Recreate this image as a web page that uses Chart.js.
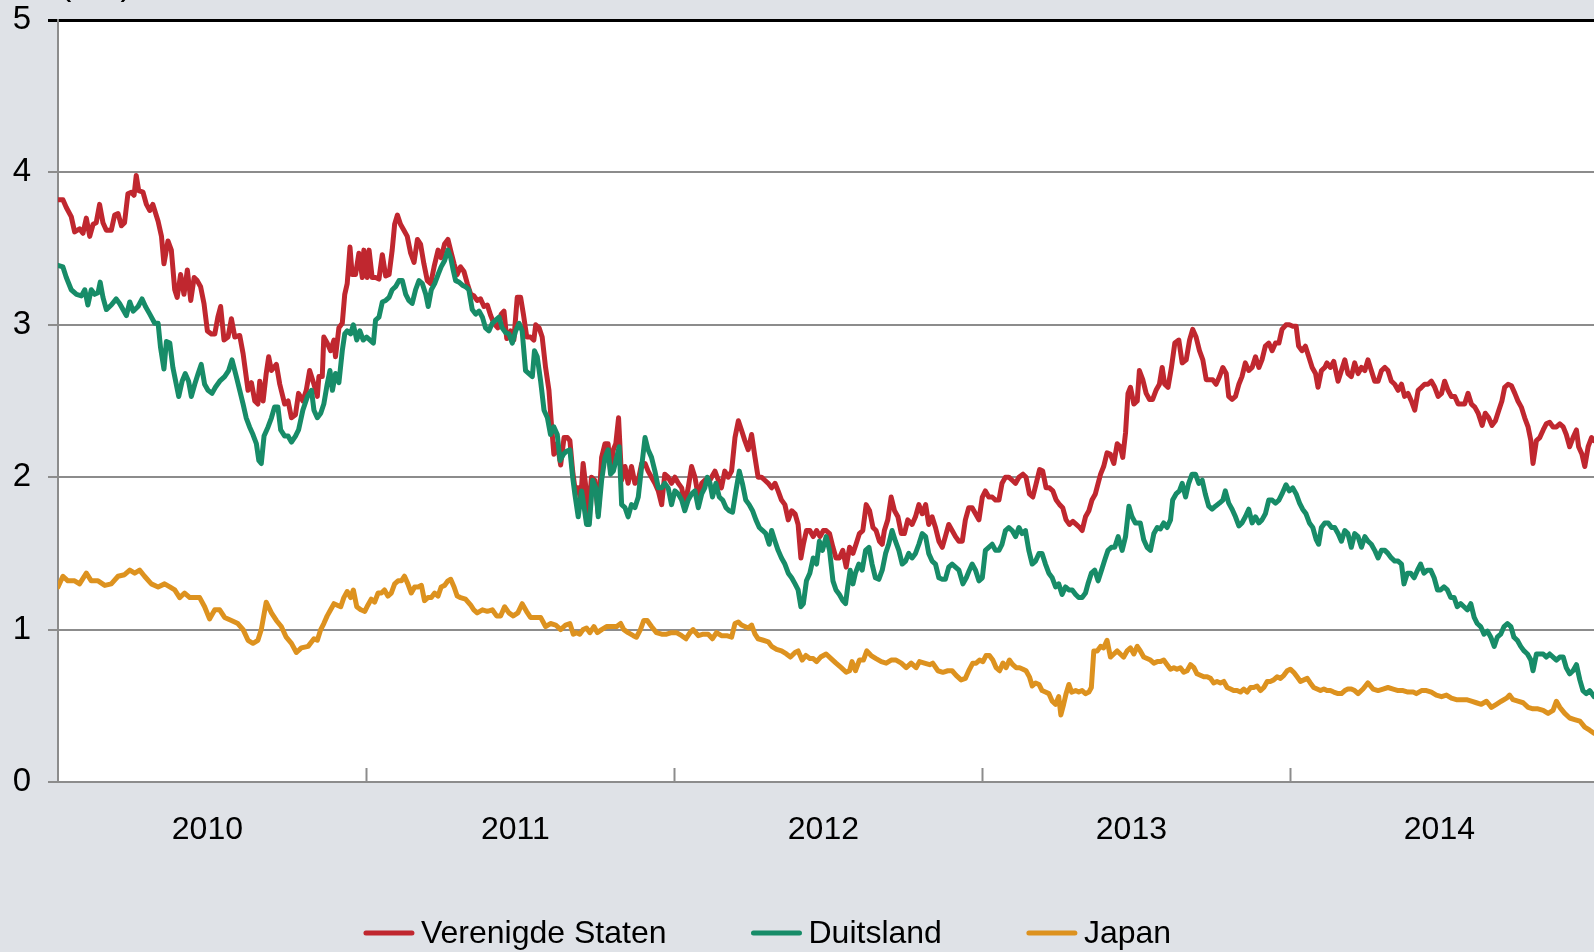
<!DOCTYPE html>
<html>
<head>
<meta charset="utf-8">
<script src="https://cdn.jsdelivr.net/npm/chart.js@4.4.0/dist/chart.umd.min.js"></script>
<style>
  html, body { margin: 0; padding: 0; background: #dfe2e7; }
  #wrap { width: 1594px; height: 952px; position: relative; }
</style>
</head>
<body>
<div id="wrap"><canvas id="myChart"></canvas></div>
<script>
// 10-year government bond yields (%): [year, value]
const usaSeries = [
  [2010.000,3.82],[2010.016,3.82],[2010.027,3.77],[2010.043,3.71],[2010.054,3.61],[2010.070,3.63],[2010.081,3.60],[2010.092,3.70],
  [2010.103,3.58],[2010.114,3.66],[2010.124,3.67],[2010.135,3.79],[2010.146,3.67],[2010.157,3.62],[2010.173,3.62],[2010.184,3.72],
  [2010.195,3.73],[2010.206,3.65],[2010.216,3.67],[2010.227,3.86],[2010.238,3.87],[2010.247,3.85],[2010.254,3.98],[2010.262,3.88],
  [2010.276,3.87],[2010.287,3.79],[2010.298,3.75],[2010.308,3.79],[2010.325,3.68],[2010.336,3.58],[2010.344,3.40],[2010.357,3.55],
  [2010.368,3.49],[2010.379,3.23],[2010.387,3.18],[2010.398,3.33],[2010.409,3.20],[2010.420,3.36],[2010.431,3.16],[2010.442,3.31],
  [2010.452,3.29],[2010.463,3.25],[2010.474,3.14],[2010.485,2.96],[2010.498,2.94],[2010.509,2.94],[2010.519,3.05],[2010.528,3.12],
  [2010.539,2.90],[2010.552,2.92],[2010.563,3.04],[2010.574,2.92],[2010.590,2.93],[2010.601,2.81],[2010.617,2.57],[2010.628,2.62],
  [2010.639,2.50],[2010.649,2.48],[2010.655,2.63],[2010.666,2.50],[2010.676,2.68],[2010.684,2.79],[2010.693,2.70],[2010.709,2.74],
  [2010.720,2.61],[2010.736,2.48],[2010.747,2.50],[2010.758,2.39],[2010.771,2.41],[2010.781,2.55],[2010.795,2.50],[2010.806,2.57],
  [2010.817,2.70],[2010.831,2.61],[2010.842,2.53],[2010.847,2.66],[2010.858,2.66],[2010.863,2.92],[2010.874,2.88],[2010.885,2.83],
  [2010.896,2.90],[2010.901,2.79],[2010.912,2.98],[2010.923,3.01],[2010.931,3.20],[2010.939,3.27],[2010.948,3.51],[2010.955,3.33],
  [2010.966,3.33],[2010.977,3.47],[2010.988,3.31],[2010.993,3.49],[2011.004,3.31],[2011.010,3.49],[2011.020,3.31],[2011.031,3.31],
  [2011.042,3.30],[2011.053,3.46],[2011.064,3.32],[2011.075,3.33],[2011.085,3.49],[2011.093,3.66],[2011.102,3.72],[2011.112,3.66],
  [2011.123,3.62],[2011.134,3.58],[2011.145,3.47],[2011.156,3.41],[2011.167,3.56],[2011.177,3.53],[2011.188,3.40],[2011.199,3.29],
  [2011.210,3.27],[2011.221,3.38],[2011.234,3.49],[2011.244,3.44],[2011.255,3.53],[2011.266,3.56],[2011.277,3.47],[2011.286,3.40],
  [2011.296,3.33],[2011.307,3.38],[2011.318,3.35],[2011.329,3.27],[2011.340,3.20],[2011.350,3.19],[2011.361,3.16],[2011.372,3.17],
  [2011.383,3.12],[2011.394,3.13],[2011.405,3.06],[2011.415,3.01],[2011.428,2.98],[2011.439,3.07],[2011.448,3.09],[2011.457,2.91],
  [2011.470,2.96],[2011.480,2.90],[2011.491,3.18],[2011.502,3.18],[2011.511,3.07],[2011.522,2.92],[2011.534,2.92],[2011.545,2.90],
  [2011.551,3.00],[2011.562,2.98],[2011.572,2.92],[2011.583,2.72],[2011.594,2.57],[2011.602,2.35],[2011.610,2.15],[2011.621,2.22],
  [2011.632,2.08],[2011.643,2.26],[2011.654,2.26],[2011.662,2.24],[2011.671,2.04],[2011.678,1.93],[2011.689,1.93],[2011.697,1.85],
  [2011.705,2.09],[2011.714,1.93],[2011.722,1.74],[2011.732,2.00],[2011.743,1.98],[2011.754,1.76],[2011.765,2.13],[2011.776,2.22],
  [2011.786,2.22],[2011.794,2.04],[2011.803,2.18],[2011.811,2.22],[2011.820,2.39],[2011.830,1.98],[2011.841,2.07],[2011.851,1.96],
  [2011.862,2.07],[2011.873,1.96],[2011.884,1.98],[2011.895,2.09],[2011.906,2.09],[2011.916,2.04],[2011.927,2.00],[2011.938,1.96],
  [2011.949,1.91],[2011.960,1.82],[2011.970,2.02],[2011.981,2.00],[2011.992,1.96],[2012.003,2.00],[2012.014,1.96],[2012.025,1.93],
  [2012.035,1.82],[2012.046,1.93],[2012.057,2.07],[2012.068,2.00],[2012.079,1.87],[2012.090,1.96],[2012.100,1.98],[2012.111,1.96],
  [2012.122,2.00],[2012.133,2.04],[2012.144,1.98],[2012.154,1.93],[2012.165,2.04],[2012.176,2.00],[2012.187,2.04],[2012.198,2.26],
  [2012.209,2.37],[2012.219,2.31],[2012.230,2.24],[2012.241,2.18],[2012.252,2.28],[2012.263,2.13],[2012.273,2.00],[2012.284,2.00],
  [2012.295,1.98],[2012.306,1.96],[2012.317,1.93],[2012.328,1.96],[2012.338,1.91],[2012.349,1.85],[2012.360,1.82],[2012.371,1.72],
  [2012.382,1.78],[2012.393,1.76],[2012.403,1.69],[2012.412,1.47],[2012.420,1.56],[2012.430,1.65],[2012.441,1.65],[2012.452,1.61],
  [2012.463,1.65],[2012.474,1.61],[2012.485,1.65],[2012.494,1.65],[2012.505,1.63],[2012.516,1.54],[2012.526,1.47],[2012.537,1.47],
  [2012.548,1.52],[2012.559,1.41],[2012.570,1.54],[2012.581,1.50],[2012.591,1.56],[2012.602,1.63],[2012.613,1.65],[2012.624,1.82],
  [2012.635,1.78],[2012.646,1.67],[2012.656,1.65],[2012.667,1.58],[2012.676,1.56],[2012.683,1.65],[2012.694,1.72],[2012.705,1.87],
  [2012.716,1.78],[2012.727,1.74],[2012.738,1.63],[2012.748,1.63],[2012.759,1.72],[2012.773,1.69],[2012.784,1.74],[2012.795,1.82],
  [2012.806,1.76],[2012.817,1.82],[2012.827,1.69],[2012.838,1.74],[2012.849,1.67],[2012.860,1.58],[2012.871,1.54],[2012.881,1.61],
  [2012.892,1.69],[2012.903,1.65],[2012.914,1.61],[2012.925,1.58],[2012.936,1.58],[2012.946,1.72],[2012.957,1.80],[2012.968,1.80],
  [2012.979,1.76],[2012.990,1.72],[2013.001,1.87],[2013.011,1.91],[2013.022,1.87],[2013.033,1.87],[2013.044,1.85],[2013.055,1.85],
  [2013.065,1.96],[2013.076,2.00],[2013.087,2.00],[2013.098,1.98],[2013.109,1.96],[2013.120,2.00],[2013.133,2.02],[2013.143,2.00],
  [2013.154,1.89],[2013.165,1.87],[2013.176,1.96],[2013.187,2.05],[2013.197,2.04],[2013.208,1.93],[2013.219,1.93],[2013.230,1.91],
  [2013.241,1.85],[2013.252,1.82],[2013.262,1.80],[2013.273,1.72],[2013.284,1.69],[2013.295,1.71],[2013.306,1.69],[2013.317,1.67],
  [2013.325,1.65],[2013.336,1.74],[2013.347,1.78],[2013.357,1.85],[2013.368,1.89],[2013.377,1.96],[2013.385,2.02],[2013.395,2.07],
  [2013.406,2.16],[2013.417,2.15],[2013.428,2.09],[2013.439,2.22],[2013.449,2.20],[2013.457,2.13],[2013.466,2.29],[2013.474,2.55],
  [2013.482,2.59],[2013.493,2.48],[2013.504,2.50],[2013.511,2.70],[2013.522,2.64],[2013.533,2.55],[2013.544,2.51],[2013.554,2.51],
  [2013.565,2.57],[2013.576,2.61],[2013.585,2.72],[2013.593,2.61],[2013.604,2.59],[2013.615,2.72],[2013.626,2.88],[2013.639,2.90],
  [2013.650,2.75],[2013.663,2.77],[2013.674,2.90],[2013.684,2.97],[2013.695,2.92],[2013.706,2.83],[2013.717,2.77],[2013.728,2.64],
  [2013.738,2.64],[2013.749,2.64],[2013.760,2.61],[2013.771,2.66],[2013.782,2.72],[2013.793,2.68],[2013.801,2.53],[2013.812,2.51],
  [2013.823,2.53],[2013.834,2.61],[2013.844,2.66],[2013.855,2.75],[2013.866,2.70],[2013.877,2.72],[2013.888,2.79],[2013.899,2.72],
  [2013.909,2.77],[2013.920,2.86],[2013.931,2.88],[2013.942,2.83],[2013.953,2.88],[2013.964,2.88],[2013.974,2.97],[2013.987,3.00],
  [2013.998,3.00],[2014.009,2.99],[2014.020,2.99],[2014.028,2.86],[2014.039,2.83],[2014.050,2.86],[2014.061,2.79],[2014.072,2.72],
  [2014.083,2.68],[2014.091,2.59],[2014.102,2.70],[2014.113,2.72],[2014.120,2.75],[2014.131,2.72],[2014.142,2.76],[2014.156,2.63],
  [2014.167,2.70],[2014.178,2.77],[2014.188,2.68],[2014.199,2.66],[2014.210,2.75],[2014.221,2.68],[2014.232,2.72],[2014.243,2.70],
  [2014.253,2.77],[2014.264,2.70],[2014.275,2.63],[2014.286,2.63],[2014.297,2.70],[2014.308,2.72],[2014.318,2.70],[2014.329,2.63],
  [2014.340,2.61],[2014.351,2.57],[2014.362,2.61],[2014.372,2.53],[2014.383,2.55],[2014.394,2.50],[2014.405,2.44],[2014.416,2.57],
  [2014.427,2.59],[2014.437,2.61],[2014.448,2.61],[2014.459,2.63],[2014.470,2.59],[2014.481,2.53],[2014.492,2.55],[2014.502,2.63],
  [2014.513,2.57],[2014.524,2.53],[2014.535,2.53],[2014.546,2.48],[2014.556,2.48],[2014.567,2.48],[2014.578,2.55],[2014.589,2.48],
  [2014.600,2.46],[2014.611,2.42],[2014.624,2.34],[2014.634,2.42],[2014.645,2.39],[2014.656,2.34],[2014.667,2.37],[2014.678,2.44],
  [2014.688,2.50],[2014.697,2.59],[2014.708,2.61],[2014.719,2.60],[2014.730,2.55],[2014.740,2.50],[2014.751,2.46],[2014.762,2.39],
  [2014.773,2.33],[2014.782,2.24],[2014.789,2.09],[2014.800,2.24],[2014.811,2.26],[2014.822,2.31],[2014.832,2.35],[2014.843,2.36],
  [2014.854,2.33],[2014.865,2.33],[2014.876,2.35],[2014.887,2.33],[2014.897,2.28],[2014.908,2.20],[2014.919,2.26],[2014.930,2.31],
  [2014.937,2.20],[2014.948,2.15],[2014.957,2.07],[2014.968,2.20],[2014.979,2.26],[2014.987,2.24]
];

const germanySeries = [
  [2010.000,3.39],[2010.016,3.38],[2010.027,3.31],[2010.043,3.23],[2010.060,3.20],[2010.076,3.19],[2010.087,3.23],[2010.097,3.13],
  [2010.108,3.23],[2010.119,3.20],[2010.130,3.21],[2010.137,3.28],[2010.146,3.18],[2010.157,3.10],[2010.173,3.13],[2010.189,3.17],
  [2010.200,3.14],[2010.211,3.10],[2010.222,3.06],[2010.233,3.15],[2010.244,3.09],[2010.260,3.12],[2010.273,3.17],[2010.284,3.12],
  [2010.298,3.07],[2010.314,3.01],[2010.325,3.01],[2010.333,2.85],[2010.344,2.71],[2010.352,2.89],[2010.363,2.88],[2010.373,2.72],
  [2010.384,2.61],[2010.392,2.53],[2010.403,2.63],[2010.413,2.68],[2010.424,2.63],[2010.433,2.53],[2010.444,2.61],[2010.455,2.68],
  [2010.465,2.74],[2010.476,2.61],[2010.487,2.57],[2010.500,2.55],[2010.511,2.59],[2010.525,2.63],[2010.541,2.66],[2010.554,2.70],
  [2010.565,2.77],[2010.579,2.66],[2010.590,2.57],[2010.601,2.48],[2010.611,2.39],[2010.622,2.33],[2010.633,2.28],[2010.644,2.22],
  [2010.652,2.11],[2010.660,2.09],[2010.669,2.27],[2010.682,2.33],[2010.693,2.39],[2010.703,2.46],[2010.714,2.46],[2010.723,2.31],
  [2010.736,2.27],[2010.747,2.27],[2010.758,2.23],[2010.771,2.27],[2010.781,2.31],[2010.795,2.44],[2010.810,2.53],[2010.823,2.57],
  [2010.831,2.44],[2010.842,2.39],[2010.853,2.42],[2010.863,2.48],[2010.874,2.61],[2010.883,2.70],[2010.891,2.57],[2010.901,2.68],
  [2010.912,2.62],[2010.923,2.83],[2010.931,2.94],[2010.939,2.96],[2010.950,2.94],[2010.959,3.00],[2010.970,2.90],[2010.980,2.96],
  [2010.991,2.90],[2011.002,2.92],[2011.013,2.90],[2011.024,2.88],[2011.031,3.03],[2011.042,3.05],[2011.053,3.15],[2011.064,3.16],
  [2011.075,3.18],[2011.085,3.23],[2011.096,3.25],[2011.107,3.29],[2011.118,3.29],[2011.129,3.20],[2011.139,3.16],[2011.150,3.14],
  [2011.161,3.23],[2011.172,3.29],[2011.183,3.27],[2011.194,3.20],[2011.202,3.12],[2011.212,3.23],[2011.223,3.27],[2011.234,3.33],
  [2011.244,3.38],[2011.255,3.42],[2011.266,3.49],[2011.275,3.44],[2011.283,3.36],[2011.291,3.29],[2011.302,3.28],[2011.313,3.26],
  [2011.323,3.25],[2011.334,3.23],[2011.345,3.10],[2011.356,3.07],[2011.367,3.09],[2011.378,3.05],[2011.388,2.98],[2011.399,2.96],
  [2011.410,3.01],[2011.421,3.03],[2011.432,3.05],[2011.442,2.98],[2011.453,2.95],[2011.464,2.94],[2011.475,2.88],[2011.486,2.96],
  [2011.497,3.01],[2011.507,2.96],[2011.518,2.70],[2011.529,2.68],[2011.540,2.66],[2011.547,2.83],[2011.556,2.79],[2011.567,2.63],
  [2011.578,2.44],[2011.589,2.39],[2011.599,2.28],[2011.610,2.33],[2011.621,2.28],[2011.630,2.11],[2011.641,2.15],[2011.651,2.17],
  [2011.662,2.18],[2011.671,2.00],[2011.678,1.89],[2011.689,1.74],[2011.700,1.91],[2011.707,1.82],[2011.716,1.69],[2011.725,1.69],
  [2011.736,1.98],[2011.746,1.93],[2011.754,1.74],[2011.765,1.98],[2011.776,2.13],[2011.786,2.18],[2011.794,2.02],[2011.803,2.04],
  [2011.814,2.13],[2011.822,2.20],[2011.830,1.82],[2011.841,1.80],[2011.851,1.74],[2011.862,1.82],[2011.873,1.80],[2011.884,1.87],
  [2011.895,2.07],[2011.906,2.26],[2011.916,2.18],[2011.927,2.13],[2011.938,2.04],[2011.949,1.93],[2011.960,1.93],[2011.970,1.96],
  [2011.981,1.93],[2011.992,1.82],[2012.003,1.91],[2012.014,1.89],[2012.025,1.85],[2012.035,1.78],[2012.046,1.85],[2012.057,1.89],
  [2012.068,1.91],[2012.079,1.80],[2012.090,1.89],[2012.100,1.93],[2012.108,2.00],[2012.117,1.96],[2012.125,1.87],[2012.136,1.96],
  [2012.147,1.87],[2012.158,1.85],[2012.169,1.80],[2012.179,1.78],[2012.190,1.77],[2012.201,1.91],[2012.212,2.04],[2012.222,1.96],
  [2012.233,1.85],[2012.244,1.82],[2012.255,1.78],[2012.266,1.72],[2012.277,1.67],[2012.288,1.65],[2012.298,1.63],[2012.309,1.56],
  [2012.317,1.65],[2012.328,1.58],[2012.338,1.52],[2012.349,1.47],[2012.360,1.43],[2012.371,1.37],[2012.382,1.34],[2012.393,1.30],
  [2012.403,1.26],[2012.412,1.15],[2012.420,1.17],[2012.430,1.32],[2012.441,1.37],[2012.452,1.47],[2012.463,1.43],[2012.472,1.58],
  [2012.482,1.52],[2012.494,1.61],[2012.505,1.52],[2012.516,1.32],[2012.526,1.26],[2012.537,1.23],[2012.548,1.19],[2012.557,1.17],
  [2012.564,1.28],[2012.572,1.39],[2012.581,1.30],[2012.589,1.37],[2012.600,1.43],[2012.611,1.39],[2012.622,1.52],[2012.633,1.54],
  [2012.643,1.43],[2012.654,1.34],[2012.665,1.33],[2012.676,1.39],[2012.687,1.50],[2012.697,1.56],[2012.708,1.65],[2012.719,1.58],
  [2012.730,1.52],[2012.741,1.43],[2012.752,1.45],[2012.762,1.50],[2012.773,1.47],[2012.784,1.50],[2012.795,1.56],[2012.806,1.63],
  [2012.817,1.61],[2012.827,1.50],[2012.838,1.45],[2012.849,1.43],[2012.860,1.34],[2012.871,1.33],[2012.881,1.33],[2012.892,1.41],
  [2012.903,1.43],[2012.914,1.41],[2012.925,1.39],[2012.938,1.30],[2012.949,1.34],[2012.959,1.39],[2012.968,1.43],[2012.979,1.39],
  [2012.990,1.32],[2013.001,1.34],[2013.011,1.52],[2013.022,1.54],[2013.033,1.56],[2013.044,1.52],[2013.055,1.52],[2013.065,1.56],
  [2013.076,1.65],[2013.087,1.67],[2013.098,1.65],[2013.109,1.61],[2013.120,1.67],[2013.130,1.63],[2013.141,1.65],[2013.152,1.52],
  [2013.163,1.43],[2013.174,1.45],[2013.185,1.50],[2013.195,1.50],[2013.206,1.43],[2013.217,1.37],[2013.228,1.34],[2013.239,1.28],
  [2013.249,1.30],[2013.260,1.23],[2013.271,1.28],[2013.282,1.26],[2013.293,1.26],[2013.304,1.23],[2013.314,1.21],[2013.325,1.21],
  [2013.336,1.24],[2013.344,1.30],[2013.355,1.37],[2013.366,1.39],[2013.377,1.32],[2013.388,1.39],[2013.399,1.46],[2013.409,1.52],
  [2013.420,1.54],[2013.431,1.54],[2013.442,1.61],[2013.455,1.52],[2013.466,1.61],[2013.477,1.81],[2013.487,1.74],[2013.498,1.70],
  [2013.514,1.70],[2013.525,1.59],[2013.536,1.54],[2013.547,1.52],[2013.558,1.63],[2013.569,1.67],[2013.579,1.66],[2013.590,1.70],
  [2013.601,1.67],[2013.612,1.72],[2013.619,1.85],[2013.630,1.89],[2013.641,1.91],[2013.650,1.96],[2013.661,1.87],[2013.671,1.96],
  [2013.682,2.02],[2013.693,2.02],[2013.704,1.96],[2013.715,1.98],[2013.725,1.89],[2013.736,1.81],[2013.747,1.79],[2013.758,1.81],
  [2013.771,1.83],[2013.782,1.85],[2013.790,1.91],[2013.801,1.83],[2013.812,1.79],[2013.823,1.74],[2013.834,1.68],[2013.844,1.70],
  [2013.855,1.74],[2013.866,1.79],[2013.877,1.70],[2013.888,1.74],[2013.899,1.70],[2013.909,1.72],[2013.920,1.76],[2013.931,1.85],
  [2013.942,1.85],[2013.953,1.83],[2013.964,1.85],[2013.974,1.89],[2013.987,1.95],[2013.998,1.91],[2014.009,1.93],[2014.020,1.89],
  [2014.031,1.83],[2014.041,1.79],[2014.052,1.76],[2014.063,1.70],[2014.074,1.67],[2014.085,1.59],[2014.093,1.56],[2014.102,1.67],
  [2014.113,1.70],[2014.124,1.70],[2014.135,1.67],[2014.145,1.67],[2014.156,1.63],[2014.167,1.58],[2014.178,1.65],[2014.188,1.63],
  [2014.199,1.54],[2014.210,1.63],[2014.221,1.61],[2014.232,1.54],[2014.243,1.61],[2014.253,1.58],[2014.264,1.56],[2014.275,1.52],
  [2014.286,1.47],[2014.297,1.52],[2014.308,1.52],[2014.318,1.50],[2014.329,1.47],[2014.340,1.45],[2014.351,1.45],[2014.362,1.43],
  [2014.370,1.30],[2014.381,1.37],[2014.392,1.37],[2014.403,1.34],[2014.414,1.39],[2014.424,1.43],[2014.435,1.37],[2014.446,1.39],
  [2014.457,1.39],[2014.468,1.34],[2014.479,1.26],[2014.489,1.26],[2014.500,1.28],[2014.511,1.26],[2014.522,1.21],[2014.533,1.21],
  [2014.543,1.15],[2014.554,1.17],[2014.565,1.15],[2014.576,1.13],[2014.587,1.17],[2014.598,1.08],[2014.608,1.04],[2014.619,1.02],
  [2014.630,0.97],[2014.641,0.99],[2014.652,0.95],[2014.663,0.89],[2014.673,0.95],[2014.684,0.97],[2014.695,1.02],[2014.706,1.04],
  [2014.717,1.02],[2014.727,0.95],[2014.738,0.93],[2014.749,0.89],[2014.760,0.86],[2014.771,0.84],[2014.782,0.80],[2014.789,0.73],
  [2014.800,0.84],[2014.811,0.84],[2014.822,0.84],[2014.832,0.82],[2014.843,0.84],[2014.854,0.82],[2014.865,0.80],[2014.876,0.82],
  [2014.887,0.82],[2014.897,0.75],[2014.908,0.71],[2014.919,0.73],[2014.930,0.77],[2014.941,0.67],[2014.951,0.60],[2014.962,0.58],
  [2014.973,0.60],[2014.987,0.56]
];

const japanSeries = [
  [2010.000,1.28],[2010.016,1.35],[2010.032,1.32],[2010.054,1.32],[2010.070,1.30],[2010.092,1.37],[2010.108,1.32],[2010.130,1.32],
  [2010.152,1.29],[2010.173,1.30],[2010.195,1.35],[2010.216,1.36],[2010.233,1.39],[2010.249,1.37],[2010.265,1.39],[2010.281,1.35],
  [2010.303,1.30],[2010.325,1.28],[2010.346,1.30],[2010.363,1.28],[2010.379,1.26],[2010.395,1.21],[2010.411,1.24],[2010.428,1.21],
  [2010.444,1.21],[2010.460,1.21],[2010.476,1.15],[2010.492,1.07],[2010.509,1.13],[2010.525,1.13],[2010.541,1.08],[2010.563,1.06],
  [2010.584,1.04],[2010.601,1.00],[2010.617,0.93],[2010.633,0.91],[2010.649,0.93],[2010.660,1.00],[2010.676,1.18],[2010.693,1.11],
  [2010.709,1.06],[2010.725,1.02],[2010.741,0.95],[2010.758,0.91],[2010.774,0.85],[2010.790,0.88],[2010.812,0.89],[2010.831,0.94],
  [2010.842,0.93],[2010.853,1.00],[2010.863,1.04],[2010.874,1.09],[2010.885,1.13],[2010.896,1.17],[2010.907,1.16],[2010.918,1.15],
  [2010.928,1.21],[2010.939,1.25],[2010.950,1.21],[2010.959,1.26],[2010.970,1.15],[2010.983,1.13],[2010.996,1.12],[2011.006,1.16],
  [2011.017,1.20],[2011.028,1.18],[2011.039,1.24],[2011.050,1.24],[2011.060,1.26],[2011.071,1.22],[2011.082,1.24],[2011.093,1.30],
  [2011.104,1.32],[2011.115,1.32],[2011.125,1.35],[2011.136,1.30],[2011.147,1.24],[2011.158,1.28],[2011.169,1.28],[2011.180,1.29],
  [2011.190,1.19],[2011.201,1.21],[2011.212,1.21],[2011.223,1.24],[2011.234,1.22],[2011.244,1.28],[2011.255,1.29],[2011.266,1.32],
  [2011.275,1.33],[2011.286,1.28],[2011.296,1.22],[2011.307,1.21],[2011.323,1.20],[2011.340,1.16],[2011.350,1.13],[2011.361,1.11],
  [2011.378,1.13],[2011.394,1.12],[2011.410,1.13],[2011.424,1.09],[2011.437,1.09],[2011.450,1.15],[2011.464,1.11],[2011.478,1.09],
  [2011.493,1.11],[2011.507,1.17],[2011.521,1.12],[2011.534,1.08],[2011.551,1.08],[2011.567,1.08],[2011.583,1.02],[2011.599,1.04],
  [2011.616,1.03],[2011.632,1.00],[2011.648,1.03],[2011.662,1.04],[2011.673,0.97],[2011.684,0.98],[2011.694,0.97],[2011.705,1.00],
  [2011.716,1.01],[2011.727,0.98],[2011.740,1.02],[2011.751,0.98],[2011.765,1.00],[2011.781,1.02],[2011.797,1.02],[2011.814,1.02],
  [2011.827,1.04],[2011.837,1.00],[2011.851,0.98],[2011.868,0.96],[2011.878,0.95],[2011.891,1.00],[2011.902,1.06],[2011.913,1.06],
  [2011.927,1.02],[2011.943,0.98],[2011.960,0.97],[2011.976,0.97],[2011.992,0.98],[2012.008,0.98],[2012.025,0.96],[2012.039,0.94],
  [2012.052,0.98],[2012.062,1.00],[2012.079,0.96],[2012.095,0.97],[2012.111,0.97],[2012.125,0.94],[2012.138,0.98],[2012.154,0.96],
  [2012.171,0.96],[2012.187,0.95],[2012.198,1.04],[2012.209,1.05],[2012.219,1.03],[2012.230,1.02],[2012.241,1.01],[2012.252,1.03],
  [2012.263,0.97],[2012.273,0.94],[2012.290,0.93],[2012.306,0.92],[2012.317,0.89],[2012.333,0.87],[2012.349,0.86],[2012.365,0.84],
  [2012.378,0.82],[2012.393,0.85],[2012.403,0.86],[2012.416,0.80],[2012.428,0.83],[2012.441,0.81],[2012.452,0.81],[2012.463,0.79],
  [2012.476,0.82],[2012.494,0.84],[2012.510,0.81],[2012.526,0.78],[2012.543,0.75],[2012.559,0.72],[2012.570,0.73],[2012.578,0.79],
  [2012.589,0.73],[2012.602,0.80],[2012.615,0.80],[2012.626,0.86],[2012.640,0.83],[2012.656,0.81],[2012.673,0.79],[2012.689,0.78],
  [2012.705,0.80],[2012.721,0.80],[2012.738,0.78],[2012.754,0.75],[2012.770,0.78],[2012.786,0.75],[2012.797,0.79],[2012.813,0.78],
  [2012.830,0.77],[2012.840,0.78],[2012.857,0.73],[2012.873,0.72],[2012.889,0.73],[2012.903,0.73],[2012.916,0.70],[2012.932,0.67],
  [2012.946,0.68],[2012.957,0.73],[2012.970,0.78],[2012.981,0.78],[2012.992,0.80],[2013.003,0.79],[2013.013,0.83],[2013.024,0.83],
  [2013.035,0.80],[2013.046,0.75],[2013.057,0.73],[2013.068,0.78],[2013.078,0.75],[2013.089,0.80],[2013.100,0.77],[2013.111,0.75],
  [2013.122,0.75],[2013.133,0.74],[2013.143,0.73],[2013.154,0.69],[2013.163,0.63],[2013.174,0.65],[2013.185,0.64],[2013.195,0.60],
  [2013.206,0.59],[2013.217,0.58],[2013.228,0.53],[2013.239,0.51],[2013.249,0.56],[2013.256,0.44],[2013.265,0.51],[2013.273,0.58],
  [2013.282,0.64],[2013.291,0.59],[2013.304,0.60],[2013.314,0.59],[2013.325,0.60],[2013.336,0.58],[2013.347,0.59],[2013.355,0.62],
  [2013.363,0.86],[2013.374,0.86],[2013.385,0.89],[2013.395,0.88],[2013.406,0.93],[2013.417,0.82],[2013.428,0.84],[2013.439,0.86],
  [2013.449,0.84],[2013.460,0.82],[2013.471,0.86],[2013.482,0.88],[2013.493,0.84],[2013.504,0.89],[2013.514,0.86],[2013.525,0.82],
  [2013.536,0.81],[2013.547,0.80],[2013.558,0.78],[2013.569,0.79],[2013.579,0.79],[2013.590,0.80],[2013.601,0.77],[2013.612,0.74],
  [2013.623,0.75],[2013.633,0.74],[2013.644,0.75],[2013.655,0.72],[2013.666,0.73],[2013.677,0.77],[2013.688,0.75],[2013.698,0.71],
  [2013.709,0.70],[2013.720,0.69],[2013.731,0.69],[2013.742,0.68],[2013.752,0.65],[2013.763,0.66],[2013.774,0.65],[2013.785,0.66],
  [2013.796,0.62],[2013.807,0.61],[2013.817,0.60],[2013.828,0.60],[2013.839,0.59],[2013.850,0.61],[2013.861,0.59],[2013.872,0.62],
  [2013.882,0.62],[2013.893,0.63],[2013.904,0.60],[2013.915,0.62],[2013.926,0.66],[2013.936,0.66],[2013.947,0.67],[2013.958,0.69],
  [2013.969,0.68],[2013.980,0.70],[2013.991,0.73],[2014.001,0.74],[2014.012,0.72],[2014.023,0.69],[2014.034,0.66],[2014.045,0.67],
  [2014.056,0.68],[2014.066,0.65],[2014.077,0.62],[2014.088,0.61],[2014.099,0.60],[2014.110,0.61],[2014.120,0.60],[2014.131,0.60],
  [2014.142,0.59],[2014.156,0.58],[2014.167,0.58],[2014.178,0.60],[2014.188,0.61],[2014.199,0.61],[2014.210,0.60],[2014.221,0.58],
  [2014.237,0.61],[2014.253,0.65],[2014.270,0.61],[2014.286,0.60],[2014.302,0.61],[2014.318,0.62],[2014.335,0.61],[2014.351,0.60],
  [2014.367,0.60],[2014.383,0.59],[2014.400,0.59],[2014.410,0.58],[2014.427,0.60],[2014.443,0.60],[2014.459,0.59],[2014.475,0.57],
  [2014.492,0.56],[2014.508,0.57],[2014.524,0.55],[2014.540,0.54],[2014.556,0.54],[2014.573,0.54],[2014.589,0.53],[2014.605,0.52],
  [2014.621,0.51],[2014.638,0.53],[2014.654,0.49],[2014.670,0.51],[2014.686,0.53],[2014.703,0.55],[2014.713,0.57],[2014.724,0.54],
  [2014.740,0.53],[2014.757,0.52],[2014.773,0.49],[2014.789,0.48],[2014.805,0.48],[2014.822,0.47],[2014.838,0.45],[2014.854,0.47],
  [2014.865,0.53],[2014.876,0.49],[2014.892,0.45],[2014.908,0.42],[2014.924,0.41],[2014.941,0.40],[2014.957,0.36],[2014.973,0.34],
  [2014.987,0.32]
];

const seriesNames = ['Verenigde Staten', 'Duitsland', 'Japan'];
const seriesColors = ['#c0272f', '#178c68', '#dd921f'];
const yearLabels = [2010, 2011, 2012, 2013, 2014];
const yTicks = [0, 1, 2, 3, 4, 5];

const FONT = '"Liberation Sans", Arial, sans-serif';

function toPoints(series) {
    return series.map(p => ({ x: p[0], y: p[1] }));
}

// white plot area + unit label cut off at the top
const plotBackground = {
    id: 'plotBackground',
    beforeDraw(chart) {
        const { ctx, chartArea } = chart;
        ctx.save();
        ctx.fillStyle = '#ffffff';
        ctx.fillRect(chartArea.left, chartArea.top, chartArea.right - chartArea.left, chartArea.bottom - chartArea.top);
        ctx.fillStyle = '#000';
        ctx.font = '34px ' + FONT;
        ctx.textBaseline = 'alphabetic';
        ctx.fillText('( % )', 60, -5);
        ctx.restore();
    }
};

// short marks between the years, pointing up into the plot
const yearMarks = {
    id: 'yearMarks',
    afterDraw(chart) {
        const { ctx, chartArea, scales } = chart;
        ctx.save();
        ctx.strokeStyle = '#8c8c8c';
        ctx.lineWidth = 2;
        yearLabels.slice(1).forEach(yr => {
            const px = Math.round(scales.x.getPixelForValue(yr)) + 0.5;
            ctx.beginPath();
            ctx.moveTo(px, chartArea.bottom);
            ctx.lineTo(px, chartArea.bottom - 14);
            ctx.stroke();
        });
        ctx.restore();
    }
};

// legend drawn under the axis labels
const bottomLegend = {
    id: 'bottomLegend',
    afterDraw(chart) {
        const ctx = chart.ctx;
        ctx.save();
        ctx.font = '32px ' + FONT;
        ctx.textBaseline = 'middle';
        const lineLen = 52, textGap = 6, itemGap = 84;
        const items = chart.data.datasets.map(ds => ({ ds, w: ctx.measureText(ds.label).width }));
        const total = items.reduce((s, it) => s + lineLen + textGap + it.w, 0) + itemGap * (items.length - 1);
        let x = 767 - total / 2;
        const y = 933;
        items.forEach(it => {
            ctx.strokeStyle = it.ds.borderColor;
            ctx.lineWidth = 5;
            ctx.lineCap = 'round';
            ctx.beginPath();
            ctx.moveTo(x + 3, y);
            ctx.lineTo(x + lineLen - 3, y);
            ctx.stroke();
            ctx.fillStyle = '#000';
            ctx.fillText(it.ds.label, x + lineLen + textGap, y + 1);
            x += lineLen + textGap + it.w + itemGap;
        });
        ctx.restore();
    }
};

const allSeries = [usaSeries, germanySeries, japanSeries];

const data = {
    datasets: allSeries.map((s, i) => ({
        label: seriesNames[i],
        data: toPoints(s),
        borderColor: seriesColors[i],
        backgroundColor: seriesColors[i],
        borderWidth: 5,
        pointRadius: 0,
        tension: 0,
        borderJoinStyle: 'round',
        borderCapStyle: 'round',
        order: 3 - i
    }))
};

const config = {
    type: 'line',
    data: data,
    options: {
        responsive: true,
        maintainAspectRatio: false,
        animation: false,
        layout: { padding: { top: 20, left: 0, right: 0, bottom: 0 } },
        plugins: {
            legend: { display: false },
            tooltip: { enabled: false }
        },
        scales: {
            x: {
                type: 'linear',
                min: yearLabels[0],
                max: 2014.987,
                grid: { display: false, drawTicks: false },
                border: { display: false },
                afterBuildTicks: scale => {
                    scale.ticks = yearLabels.map(yr => ({ value: yr + 0.485 }));
                },
                afterFit: scale => { scale.height = 170; },
                ticks: {
                    autoSkip: false,
                    maxRotation: 0,
                    padding: 29,
                    color: '#000',
                    font: { family: FONT, size: 32 },
                    callback: v => String(Math.floor(v))
                }
            },
            y: {
                min: 0,
                max: 5,
                afterBuildTicks: scale => {
                    scale.ticks = yTicks.map(v => ({ value: v }));
                },
                afterFit: scale => { scale.width = 58; },
                grid: {
                    color: ctx => (ctx.tick && ctx.tick.value === 5 ? '#000000' : '#8c8c8c'),
                    lineWidth: ctx => (ctx.tick && ctx.tick.value === 5 ? 3 : 2),
                    tickLength: 10,
                    drawTicks: true
                },
                border: { display: true, color: '#8c8c8c', width: 2 },
                ticks: {
                    padding: 17,
                    color: '#000',
                    font: { family: FONT, size: 33, lineHeight: 0.1 }
                }
            }
        }
    },
    plugins: [plotBackground, yearMarks, bottomLegend]
};

const ctx = document.getElementById('myChart').getContext('2d');
const bondChart = new Chart(ctx, config);
</script>
</body>
</html>
